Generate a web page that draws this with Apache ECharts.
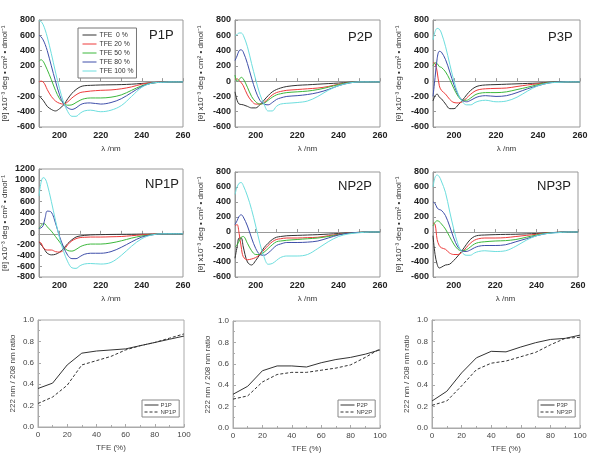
<!DOCTYPE html>
<html><head><meta charset="utf-8">
<script src="https://cdn.jsdelivr.net/npm/echarts@6/dist/echarts.min.js"></script>
<style>html,body{margin:0;padding:0;background:#fff}#c{width:600px;height:458px}</style>
</head><body><div id="c"></div>
<script>
// Wavelengths (nm)
const wavelengths = [190,191,192,193,194,196,198,200,202,204,206,208,210,212,215,220,225,230,235,240,245,250,255,260];
const tfeNames = ['TFE  0 %','TFE 20 %','TFE 50 %','TFE 80 %','TFE 100 %'];

// P1P
const p1p_0   = [-190,-220,-250,-290,-330,-370,-390,-360,-310,-230,-160,-110,-75,-60,-55,-50,-48,-45,-40,-30,-20,-12,-10,-10];
const p1p_20  = [-10,0,-10,-50,-110,-200,-260,-290,-300,-270,-220,-180,-150,-140,-130,-120,-115,-100,-75,-40,-20,-12,-10,-10];
const p1p_50  = [260,280,260,210,150,20,-120,-230,-290,-315,-310,-280,-250,-230,-220,-220,-210,-180,-120,-60,-25,-15,-10,-10];
const p1p_80  = [600,580,540,480,400,200,0,-180,-300,-350,-370,-350,-310,-290,-285,-300,-280,-230,-150,-70,-25,-15,-10,-10];
const p1p_100 = [790,780,740,670,580,360,120,-100,-280,-400,-460,-460,-420,-390,-380,-400,-380,-320,-200,-80,-25,-15,-10,-10];
// P2P
const p2p_0   = [-140,-250,-300,-305,-310,-330,-350,-350,-310,-250,-190,-140,-110,-90,-70,-55,-48,-40,-32,-25,-15,-10,-10,-10];
const p2p_20  = [20,30,10,-20,-60,-180,-260,-300,-300,-280,-230,-180,-150,-135,-120,-110,-100,-90,-70,-40,-20,-10,-10,-10];
const p2p_50  = [80,0,20,50,30,-80,-200,-270,-300,-290,-250,-210,-180,-165,-150,-140,-130,-110,-80,-45,-20,-10,-10,-10];
const p2p_80  = [270,330,400,410,380,230,40,-130,-250,-300,-310,-280,-240,-220,-200,-190,-175,-150,-110,-60,-25,-10,-10,-10];
const p2p_100 = [600,610,630,630,600,450,230,20,-170,-300,-390,-390,-330,-300,-290,-280,-260,-200,-120,-60,-25,-10,-10,-10];
// P3P
const p3p_0   = [-260,-190,-170,-210,-230,-300,-360,-360,-310,-250,-180,-120,-80,-60,-50,-45,-40,-35,-30,-25,-15,-10,-10,-10];
const p3p_20  = [240,230,120,-60,-120,-170,-240,-280,-285,-270,-220,-170,-130,-110,-100,-95,-90,-70,-50,-35,-20,-10,-10,-10];
const p3p_50  = [200,240,230,190,180,120,20,-100,-200,-250,-250,-220,-180,-160,-150,-150,-140,-110,-80,-45,-20,-10,-10,-10];
const p3p_80  = [-200,50,300,390,380,280,120,-50,-180,-250,-270,-250,-220,-200,-190,-200,-190,-150,-100,-60,-25,-10,-10,-10];
const p3p_100 = [540,650,690,680,630,450,220,0,-170,-270,-310,-310,-280,-260,-250,-270,-260,-210,-130,-60,-25,-15,-10,-10];
// NP1P
const np1p_0   = [-150,-200,-250,-310,-360,-390,-380,-340,-270,-180,-110,-60,-40,-30,-20,-15,-12,-10,-8,-5,-3,0,0,0];
const np1p_20  = [-150,-170,-250,-290,-300,-300,-330,-340,-300,-200,-130,-90,-70,-65,-60,-60,-55,-50,-35,-20,-8,0,0,0];
const np1p_50  = [100,150,190,180,130,50,-50,-150,-250,-310,-320,-290,-240,-210,-190,-190,-170,-130,-80,-40,-15,0,0,0];
const np1p_80  = [100,110,150,300,420,400,200,-50,-250,-400,-460,-460,-420,-380,-360,-360,-330,-250,-150,-60,-20,0,0,0];
const np1p_100 = [700,950,1040,1020,920,600,250,-80,-330,-520,-630,-640,-590,-560,-550,-560,-530,-400,-230,-90,-20,0,0,0];
// NP2P
const np2p_0   = [-350,-200,-80,-80,-200,-400,-440,-380,-300,-210,-150,-100,-70,-60,-50,-45,-40,-35,-28,-20,-10,-5,0,0];
const np2p_20  = [80,100,-20,-200,-330,-370,-360,-340,-300,-240,-180,-130,-100,-90,-80,-80,-75,-70,-50,-30,-12,-5,0,0];
const np2p_50  = [-200,-170,-120,-70,-60,-150,-250,-300,-300,-270,-220,-170,-130,-120,-110,-100,-90,-80,-60,-35,-15,-5,0,0];
const np2p_80  = [100,150,210,230,200,80,-80,-220,-300,-310,-280,-230,-180,-160,-140,-140,-135,-120,-80,-40,-15,-5,0,0];
const np2p_100 = [500,600,650,660,620,480,300,80,-150,-330,-430,-420,-380,-340,-320,-320,-300,-220,-130,-60,-25,-10,0,0];
// NP3P
const np3p_0   = [-50,-300,-430,-480,-470,-440,-430,-380,-320,-250,-170,-100,-60,-45,-40,-35,-32,-30,-25,-20,-10,-5,0,0];
const np3p_20  = [120,100,-100,-180,-210,-230,-280,-300,-300,-270,-210,-150,-110,-90,-80,-80,-75,-60,-45,-30,-12,-5,0,0];
const np3p_50  = [80,130,150,140,110,40,-60,-160,-230,-250,-240,-200,-160,-140,-130,-120,-115,-100,-70,-40,-15,-5,0,0];
const np3p_80  = [400,380,320,300,290,220,80,-80,-200,-250,-260,-240,-210,-190,-180,-180,-170,-130,-90,-50,-20,-5,0,0];
const np3p_100 = [600,730,760,740,680,530,280,40,-160,-270,-310,-310,-280,-260,-250,-260,-250,-190,-110,-50,-20,-10,0,0];

// Ratio panels
const tfe = [0,10,20,30,40,50,60,70,80,90,100];
const ratio_P1P  = [0.36,0.41,0.58,0.69,0.71,0.72,0.73,0.76,0.79,0.82,0.85];
const ratio_NP1P = [0.22,0.28,0.39,0.58,0.62,0.66,0.72,0.76,0.79,0.83,0.87];
const ratio_P2P  = [0.315,0.39,0.535,0.58,0.58,0.57,0.61,0.64,0.66,0.69,0.73];
const ratio_NP2P = [0.27,0.30,0.43,0.50,0.52,0.52,0.54,0.56,0.59,0.66,0.74];
const ratio_P3P  = [0.25,0.34,0.51,0.65,0.71,0.705,0.75,0.79,0.82,0.83,0.86];
const ratio_NP3P = [0.21,0.25,0.39,0.54,0.60,0.62,0.66,0.70,0.77,0.83,0.84];

const colors = ['#333333','#ee3b3b','#3cb83c','#3f4faa','#6ddede'];
const cdPanels = [
  {title:'P1P', sets:[p1p_0,p1p_20,p1p_50,p1p_80,p1p_100], min:-600, max:800},
  {title:'P2P', sets:[p2p_0,p2p_20,p2p_50,p2p_80,p2p_100], min:-600, max:800},
  {title:'P3P', sets:[p3p_0,p3p_20,p3p_50,p3p_80,p3p_100], min:-600, max:800},
  {title:'NP1P', sets:[np1p_0,np1p_20,np1p_50,np1p_80,np1p_100], min:-800, max:1200},
  {title:'NP2P', sets:[np2p_0,np2p_20,np2p_50,np2p_80,np2p_100], min:-600, max:800},
  {title:'NP3P', sets:[np3p_0,np3p_20,np3p_50,np3p_80,np3p_100], min:-600, max:800}
];
const ratioPanels = [
  {a:'P1P', b:'NP1P', da:ratio_P1P, db:ratio_NP1P},
  {a:'P2P', b:'NP2P', da:ratio_P2P, db:ratio_NP2P},
  {a:'P3P', b:'NP3P', da:ratio_P3P, db:ratio_NP3P}
];

const gridBoxes = [
  {left:38, top:20, width:145, height:107},
  {left:235, top:20, width:145, height:107},
  {left:433, top:20, width:147, height:107},
  {left:38, top:169, width:145, height:108},
  {left:235, top:172, width:145, height:105},
  {left:433, top:172, width:145, height:105},
  {left:38, top:320, width:146, height:107},
  {left:233, top:321, width:147, height:107},
  {left:432, top:320, width:148, height:108}
];
const titlePos = [[149,29],[348,31],[548,31],[145,178],[338,180],[537,180]];
const legendPos = [142,338,538];

const grid = [], xAxis = [], yAxis = [], series = [], legend = [], graphic = [];
const font = 'Liberation Sans, Arial, sans-serif';

cdPanels.forEach((p, i) => {
  grid.push(Object.assign({show:true, borderColor:'#999', borderWidth:1, containLabel:false}, gridBoxes[i]));
  xAxis.push({type:'value', gridIndex:i, min:190, max:260, interval:10,
    name:'λ /nm', nameLocation:'middle', nameGap:18,
    nameTextStyle:{fontSize:8, color:'#333', fontFamily:font},
    axisLine:{lineStyle:{color:'#999'}},
    axisTick:{inside:true, length:3, lineStyle:{color:'#999'}},
    splitLine:{show:false},
    axisLabel:{fontSize:9, fontWeight:'bold', color:'#222', margin:4, fontFamily:font,
      formatter: v => (v % 20 === 0 ? String(v) : '')}});
  yAxis.push({type:'value', gridIndex:i, min:p.min, max:p.max, interval:200,
    name:'[θ] x10⁻³ deg • cm² • dmol⁻¹', nameLocation:'middle', nameGap:30,
    nameTextStyle:{fontSize:8, color:'#333', fontFamily:font},
    axisLine:{lineStyle:{color:'#999'}},
    axisTick:{inside:true, length:3, lineStyle:{color:'#999'}},
    splitLine:{show:false},
    axisLabel:{fontSize:9, fontWeight:'bold', color:'#222', margin:4, fontFamily:font,
      formatter: v => String(v)}});
  p.sets.forEach((vals, k) => {
    series.push({type:'line', name:tfeNames[k], xAxisIndex:i, yAxisIndex:i,
      data: wavelengths.map((w, j) => [w, vals[j]]),
      smooth:0.35, showSymbol:false, symbol:'none',
      lineStyle:{width:1, color:colors[k]}, itemStyle:{color:colors[k]}});
  });
  graphic.push({type:'text', left:titlePos[i][0], top:titlePos[i][1],
    style:{text:p.title, fontSize:13, fill:'#222', fontFamily:font}});
});

legend.push({data:tfeNames, orient:'vertical', left:78, top:28, padding:[3,3,3,4],
  itemGap:1, itemWidth:14, itemHeight:7, borderColor:'#777', borderWidth:1,
  itemStyle:{opacity:0}, lineStyle:{width:1},
  textStyle:{fontSize:6.8, color:'#333', lineHeight:8, fontFamily:font, padding:[0,0,0,-2]}, selectedMode:false});

ratioPanels.forEach((p, r) => {
  const gi = 6 + r;
  grid.push(Object.assign({show:true, borderColor:'#aaa', borderWidth:1}, gridBoxes[gi]));
  xAxis.push({type:'value', gridIndex:gi, min:0, max:100, interval:20,
    name:'TFE (%)', nameLocation:'middle', nameGap:17,
    nameTextStyle:{fontSize:8, color:'#444', fontFamily:font},
    axisLine:{lineStyle:{color:'#aaa'}},
    axisTick:{inside:true, length:3, lineStyle:{color:'#aaa'}},
    minorTick:{show:true, splitNumber:2, length:2, lineStyle:{color:'#aaa'}},
    splitLine:{show:false},
    axisLabel:{fontSize:8, color:'#444', margin:4, fontFamily:font}});
  yAxis.push({type:'value', gridIndex:gi, min:0, max:1, interval:0.2,
    name:'222 nm / 208 nm ratio', nameLocation:'middle', nameGap:21,
    nameTextStyle:{fontSize:8, color:'#444', fontFamily:font},
    axisLine:{lineStyle:{color:'#aaa'}},
    axisTick:{inside:true, length:3, lineStyle:{color:'#aaa'}},
    minorTick:{show:true, splitNumber:2, length:2, lineStyle:{color:'#aaa'}},
    splitLine:{show:false},
    axisLabel:{fontSize:8, color:'#444', margin:4, fontFamily:font,
      formatter: v => v.toFixed(1)}});
  series.push({type:'line', name:p.a, xAxisIndex:gi, yAxisIndex:gi,
    data: tfe.map((t, j) => [t, p.da[j]]), symbol:'none', showSymbol:false,
    lineStyle:{width:1, color:'#333', type:'solid'}, itemStyle:{color:'#333'}});
  series.push({type:'line', name:p.b, xAxisIndex:gi, yAxisIndex:gi,
    data: tfe.map((t, j) => [t, p.db[j]]), symbol:'none', showSymbol:false,
    lineStyle:{width:1, color:'#333', type:[3,2]}, itemStyle:{color:'#333'}});
  legend.push({data:[p.a, p.b], orient:'vertical', left:legendPos[r], top:400, padding:[2,3,2,2],
    itemGap:1, itemWidth:14, itemHeight:6, borderColor:'#888', borderWidth:1,
    itemStyle:{opacity:0}, lineStyle:{width:1},
    textStyle:{fontSize:6, color:'#444', lineHeight:6, fontFamily:font, padding:[0,0,0,-3]}, selectedMode:false});
});

const chart = echarts.init(document.getElementById('c'), null, {renderer:'canvas'});
chart.setOption({animation:false, backgroundColor:'#fff', grid, xAxis, yAxis, series, legend, graphic});
</script>
</body></html>
